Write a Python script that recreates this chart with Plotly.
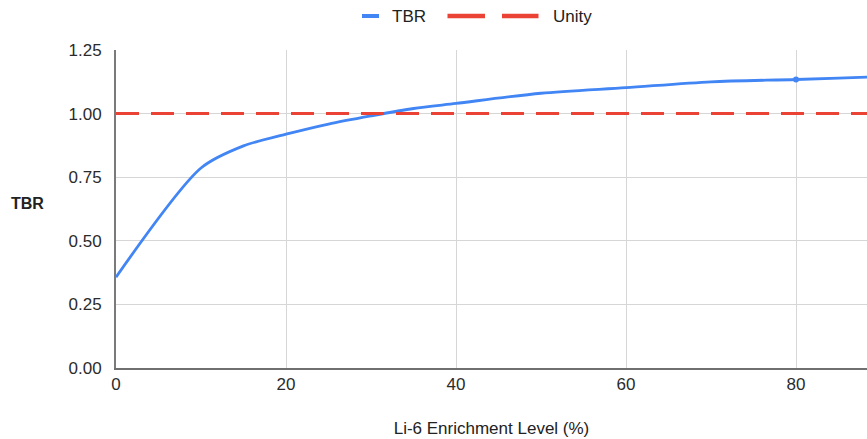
import plotly.graph_objects as go

enrichment = [0, 10, 15, 20, 25, 30, 35, 40, 50, 60, 70, 80, 90, 100]
tbr = [0.357, 0.786, 0.873, 0.919, 0.959, 0.991, 1.020, 1.040, 1.080, 1.102, 1.125, 1.134, 1.145, 1.152]
unity_x = [0, 100]
unity_y = [1.0, 1.0]
y_ticks = [0, 0.25, 0.5, 0.75, 1.0, 1.25]
x_ticks = [0, 20, 40, 60, 80]
highlight_x = [80]
highlight_y = [tbr[enrichment.index(80)]]

BLUE = "#4285F4"
RED = "#EA4335"
FONT = "Liberation Sans, Arial, sans-serif"
TXT = "#2b2b2b"

fig = go.Figure()
fig.add_trace(go.Scatter(
    x=enrichment, y=tbr, name="TBR", mode="lines",
    line=dict(color=BLUE, width=2.8, shape="spline", smoothing=0.8),
))
fig.add_trace(go.Scatter(
    x=highlight_x, y=highlight_y, name="TBR point", mode="markers",
    marker=dict(size=6, color=BLUE), showlegend=False,
))
fig.add_trace(go.Scatter(
    x=unity_x, y=unity_y, name="Unity", mode="lines",
    line=dict(color=RED, width=3, dash="23px,12px"),
))

# plot area in page pixels: left 116, right 867, top 50, bottom 368
def px(xp):
    return (xp - 116) / 751.0

def py(yp):
    return (368 - yp) / 318.0

leg_y = py(16)
shapes = [
    dict(type="line", xref="paper", yref="paper", x0=px(362), x1=px(379), y0=leg_y, y1=leg_y,
         line=dict(color=BLUE, width=4)),
    dict(type="line", xref="paper", yref="paper", x0=px(447.5), x1=px(485), y0=leg_y, y1=leg_y,
         line=dict(color=RED, width=4.5)),
    dict(type="line", xref="paper", yref="paper", x0=px(502), x1=px(538.5), y0=leg_y, y1=leg_y,
         line=dict(color=RED, width=4.5)),
]

fig.update_layout(
    width=867, height=439,
    margin=dict(l=116, r=0, t=50, b=71, autoexpand=False),
    paper_bgcolor="white", plot_bgcolor="white",
    font=dict(family=FONT, size=17, color=TXT),
    showlegend=False,
    shapes=shapes,
    xaxis=dict(range=[0, 88.35], tickvals=x_ticks, showgrid=True, gridcolor="#d6d6d6",
               gridwidth=1.3, showline=True, linecolor="#6f6f6f", linewidth=2,
               zeroline=False, ticks="", tickfont=dict(size=17, color=TXT),
               title=dict(text="Li-6 Enrichment Level (%)", standoff=29,
                          font=dict(size=17, color="#222222"))),
    yaxis=dict(range=[0, 1.25], tickvals=y_ticks, tickformat=".2f", showgrid=True,
               gridcolor="#d6d6d6", gridwidth=1.3, showline=True, linecolor="#7a7a7a",
               linewidth=2, zeroline=False, ticks="", ticklabelstandoff=9,
               tickfont=dict(size=17, color=TXT)),
)
fig.add_annotation(text="TBR", xref="paper", yref="paper", x=px(390), y=leg_y,
                   xanchor="left", yanchor="middle", showarrow=False,
                   font=dict(size=17, color="#222222"))
fig.add_annotation(text="Unity", xref="paper", yref="paper", x=px(551), y=leg_y,
                   xanchor="left", yanchor="middle", showarrow=False,
                   font=dict(size=17, color="#222222"))
fig.add_annotation(text="<b>TBR</b>", xref="paper", yref="paper", x=px(27), y=py(203),
                   xanchor="center", yanchor="middle", showarrow=False,
                   font=dict(size=16, color="#222222"))

fig.write_html(
    "out.html",
    config={"displayModeBar": False},
    post_script="document.body.style.margin='0';document.body.style.overflow='hidden';",
)
